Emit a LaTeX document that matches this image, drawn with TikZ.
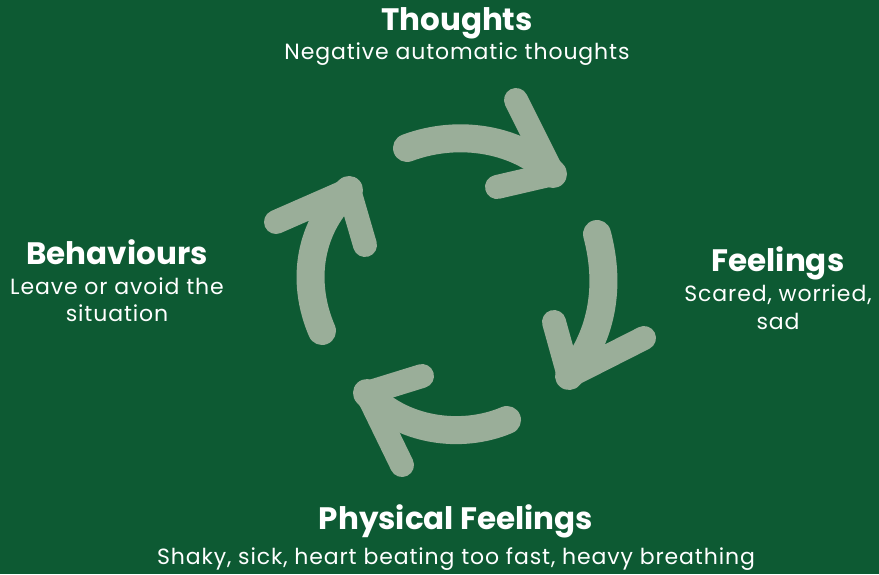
\documentclass[tikz,border=0pt]{standalone}
\usepackage{fontspec}
\setmainfont{Poppins}
\usetikzlibrary{calc}
\definecolor{bg}{HTML}{0D5A33}
\definecolor{arr}{HTML}{9AAE99}
\begin{document}
\begin{tikzpicture}[x=1pt,y=-1pt,
  shaft/.style={draw=arr,line width=28pt,line cap=round},
  barbs/.style={draw=arr,line width=24pt,line cap=round,line join=round},
  title/.style={text=white,font=\fontsize{31}{34}\selectfont\bfseries,anchor=base,inner sep=0pt},
  sub/.style={text=white,font=\fontsize{22}{28}\selectfont\addfontfeature{LetterSpace=4},anchor=base,inner sep=0pt}]
\fill[bg] (0,0) rectangle (879,574);
\useasboundingbox (0,0) rectangle (879,574);
% arrow 1: thoughts -> feelings
\coordinate (a1s) at (407,148);
\coordinate (a1t) at (553,174);
\coordinate (a1b) at (516,100);
\coordinate (a1c) at (497,187);
\draw[shaft] (a1s) .. controls (460,128) and (520,140) .. (a1t);
\draw[barbs] (a1b) -- (a1t) -- (a1c);
\fill[arr] (a1t) -- ($(a1t)!0.4!(a1b)$) -- ($(a1t)!0.4!(a1c)$) -- cycle;
% arrow 2: feelings -> physical
\coordinate (a2s) at (597,234);
\coordinate (a2t) at (569,376);
\coordinate (a2b) at (554,322);
\coordinate (a2c) at (644,338);
\draw[shaft] (a2s) .. controls (612,290) and (600,340) .. (a2t);
\draw[barbs] (a2b) -- (a2t) -- (a2c);
\fill[arr] (a2t) -- ($(a2t)!0.4!(a2b)$) -- ($(a2t)!0.4!(a2c)$) -- cycle;
% arrow 3: physical -> behaviours
\coordinate (a3s) at (507,420);
\coordinate (a3t) at (367,393);
\coordinate (a3b) at (422,376);
\coordinate (a3c) at (402,465);
\draw[shaft] (a3s) .. controls (460,440) and (400,430) .. (a3t);
\draw[barbs] (a3b) -- (a3t) -- (a3c);
\fill[arr] (a3t) -- ($(a3t)!0.4!(a3b)$) -- ($(a3t)!0.4!(a3c)$) -- cycle;
% arrow 4: behaviours -> thoughts
\coordinate (a4s) at (322,331);
\coordinate (a4t) at (349,190);
\coordinate (a4b) at (276,222);
\coordinate (a4c) at (365,245);
\draw[shaft] (a4s) .. controls (300,280) and (310,225) .. (a4t);
\draw[barbs] (a4b) -- (a4t) -- (a4c);
\fill[arr] (a4t) -- ($(a4t)!0.4!(a4b)$) -- ($(a4t)!0.4!(a4c)$) -- cycle;
% texts
\node[title] (tt) at (457,30) {Thoughts};
\node[sub] (ts) at (457,59) {Negative automatic thoughts};
\node[title] (ft) at (778,271) {Feelings};
\node[sub] (fs1) at (778,301) {Scared, worried,};
\node[sub] (fs2) at (778,329) {sad};
\node[title] (bt) at (117,264) {Behaviours};
\node[sub] (bs1) at (117,294) {Leave or avoid the};
\node[sub] (bs2) at (117,321) {situation};
\node[title] (pt) at (456,529) {Physical Feelings};
\node[sub] (ps) at (456,564) {Shaky, sick, heart beating too fast, heavy breathing};
\end{tikzpicture}
\end{document}
